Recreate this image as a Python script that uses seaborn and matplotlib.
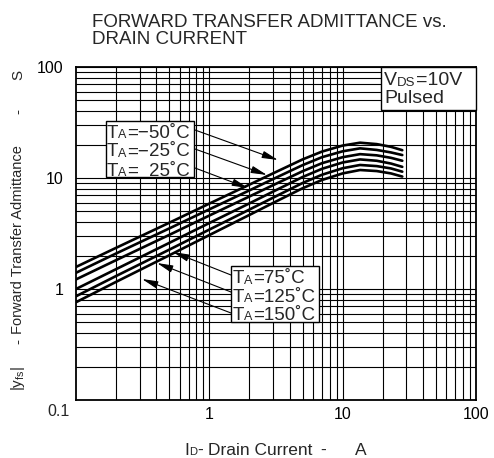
import numpy as np
import pandas as pd
import matplotlib
matplotlib.use("Agg")
import matplotlib.pyplot as plt
import seaborn as sns
from matplotlib.patches import Rectangle, FancyArrowPatch

# ---- data ----
current = [0.1, 0.2, 0.5, 1, 2, 3, 5, 7, 10, 13.5, 18, 23, 28]
yfs_m50 = [1.58, 2.35, 3.95, 5.88, 8.72, 11.0, 14.7, 17.3, 19.6, 20.8, 20.2, 19.1, 17.8]
yfs_m25 = [1.40, 2.09, 3.51, 5.22, 7.74, 9.77, 13.05, 15.4, 17.4, 18.5, 17.9, 17.0, 16.1]
yfs_25 = [1.22, 1.82, 3.07, 4.59, 6.82, 8.61, 11.5, 13.6, 15.4, 16.4, 16.0, 15.2, 14.3]
yfs_75 = [1.00, 1.51, 2.60, 3.93, 5.91, 7.53, 10.2, 12.1, 13.8, 14.7, 14.3, 13.5, 12.6]
yfs_125 = [0.86, 1.31, 2.26, 3.43, 5.20, 6.64, 9.01, 10.7, 12.25, 13.1, 12.8, 12.2, 11.4]
yfs_150 = [0.76, 1.16, 2.01, 3.06, 4.65, 5.95, 8.08, 9.60, 11.0, 11.8, 11.55, 11.0, 10.3]
temps = ["-50", "-25", "25", "75", "125", "150"]
series = [yfs_m50, yfs_m25, yfs_25, yfs_75, yfs_125, yfs_150]
x_ticks = [1, 10, 100]
x_tick_labels = ["1", "10", "100"]
y_ticks = [1, 10, 100]
y_tick_labels = ["1", "10", "100"]
corner_label = "0.1"

W, H = 494, 458

def fp(x, y):
    return (x / W, 1 - y / H)

sns.set_theme(style="white")
plt.rcParams['font.family'] = ['Liberation Sans', 'DejaVu Sans']
plt.rcParams['mathtext.fontset'] = 'custom'
plt.rcParams['mathtext.rm'] = 'Liberation Sans'

fig = plt.figure(figsize=(W / 100, H / 100), dpi=100)
fig.patch.set_facecolor('white')
ax = fig.add_axes([76 / W, 1 - 400 / H, 400 / W, 333 / H])
ax.set_facecolor('white')
renderer = fig.canvas.get_renderer()


def pieces(x0, yb, items, z=6):
    """Draw text pieces left to right on a common baseline (pixel coords from top-left)."""
    x = x0
    for s, size, dy in items:
        t = fig.text(x / W, 1 - (yb + dy) / H, s, fontsize=size, ha='left', va='baseline', zorder=z)
        x += t.get_window_extent(renderer).width
    return x


df = pd.DataFrame({
    "I": np.tile(current, len(temps)),
    "Y": np.concatenate(series),
    "T": np.repeat(temps, len(current)),
})
sns.lineplot(data=df, x="I", y="Y", hue="T", palette=["black"] * 6,
             linewidth=1.9, legend=False, ax=ax, estimator=None, sort=True)

ax.set_xscale('log')
ax.set_yscale('log')
ax.set_xlim(0.1, 100)
ax.set_ylim(0.1, 100)
ax.set_xticks(x_ticks)
ax.set_xticklabels(x_tick_labels)
ax.set_yticks(y_ticks)
ax.set_yticklabels(y_tick_labels)
ax.tick_params(which='both', length=0, labelsize=11.5, colors='black')
ax.tick_params(axis='x', pad=5)
ax.tick_params(axis='y', pad=9)
ax.grid(True, which='both', color='black', linewidth=0.8)
ax.set_axisbelow(True)
for s in ax.spines.values():
    s.set_color('black')
    s.set_linewidth(1.3)
ax.set_xlabel("")
ax.set_ylabel("")
fig.text(*fp(58, 411), corner_label, ha='center', va='center', fontsize=11.5)

# x axis label
pieces(184, 455, [("I", 12.5, 0), ("D", 8, 0), ("-", 12.5, 0)])
pieces(208, 455, [("Drain Current", 12.5, 0)])
fig.text(*fp(323, 455), "-", ha='center', va='baseline', fontsize=12.5)
fig.text(*fp(361, 455), "A", ha='center', va='baseline', fontsize=12.5)

# y axis label
fig.text(*fp(18, 378), r"|y$_\mathregular{fs}$|", ha='center', va='center', rotation=90, fontsize=11)
fig.text(*fp(18, 341), "-", ha='center', va='center', rotation=90, fontsize=11)
fig.text(*fp(18, 240), "Forward Transfer Admittance", ha='center', va='center', rotation=90, fontsize=10.5)
fig.text(*fp(18, 112), "-", ha='center', va='center', rotation=90, fontsize=11)
fig.text(*fp(18, 75), "S", ha='center', va='center', rotation=90, fontsize=11)

# title
fig.text(*fp(92, 27), "FORWARD TRANSFER ADMITTANCE vs.", ha='left', va='baseline', fontsize=13.5)
fig.text(*fp(92, 43.5), "DRAIN CURRENT", ha='left', va='baseline', fontsize=13.5)

# VDS box
fig.patches.append(Rectangle(fp(381, 110), 95 / W, 43 / H, transform=fig.transFigure,
                             facecolor='white', edgecolor='black', linewidth=1.0, zorder=5))
pieces(384, 85, [("V", 14, 0), ("DS", 9.5, 0.5), ("=10V", 14, 0)])
pieces(384, 103, [("Pulsed", 14, 0)])

# legend box 1
fig.patches.append(Rectangle(fp(106, 177), 88 / W, 56 / H, transform=fig.transFigure,
                             facecolor='white', edgecolor='black', linewidth=1.0, zorder=5))
pieces(107, 137.5, [("T", 13.5, 0), ("A", 9, 0.5), ("=−50˚C", 13.5, 0)])
x25 = pieces(107, 156.5, [("T", 13.5, 0), ("A", 9, 0.5), ("=−", 13.5, 0)])
pieces(107, 175.5, [("T", 13.5, 0), ("A", 9, 0.5), ("=", 13.5, 0)])
pieces(x25, 175.5, [("25˚C", 13.5, 0)])
pieces(x25, 156.5, [("25˚C", 13.5, 0)])

# legend box 2
fig.patches.append(Rectangle(fp(231, 322), 88 / W, 56 / H, transform=fig.transFigure,
                             facecolor='white', edgecolor='black', linewidth=1.0, zorder=5))
for yb, t in zip([283, 301.5, 320], ["=75˚C", "=125˚C", "=150˚C"]):
    pieces(233, yb, [("T", 13.5, 0), ("A", 9, 0.5), (t, 13.5, 0)])

arrow_kw = dict(arrowstyle='-|>,head_length=0.8,head_width=0.18', color='black', lw=0.8,
                shrinkA=0, shrinkB=0)
for start, tip in [((195, 130), (278, 160)), ((195, 149), (267, 175)), ((195, 168), (248, 188)),
                   ((231, 275), (173, 252)), ((231, 292), (157, 263)), ((231, 313), (142, 279))]:
    fig.add_artist(FancyArrowPatch(fp(*start), fp(*tip), transform=fig.transFigure,
                                   mutation_scale=12, zorder=7, **arrow_kw))

fig.savefig("out.png", dpi=100, facecolor='white')
